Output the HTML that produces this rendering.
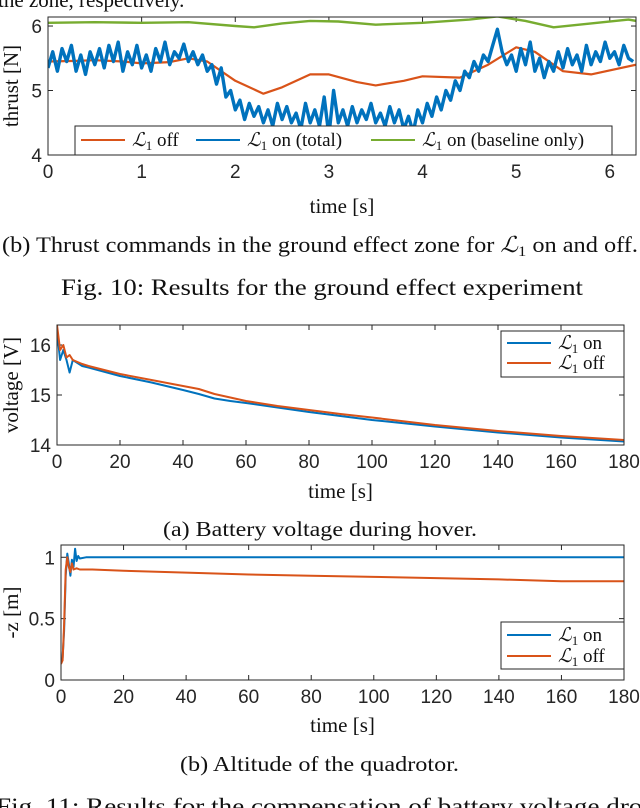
<!DOCTYPE html>
<html><head><meta charset="utf-8"><style>
html,body{margin:0;padding:0;background:#fff;}
svg{display:block;}
.tk{font-family:"Liberation Sans",sans-serif;font-size:19px;fill:#262626;}
.sr{font-family:"Liberation Serif",serif;fill:#111;}
</style></head><body>
<svg id="pg" width="640" height="808" viewBox="0 0 640 808" xmlns="http://www.w3.org/2000/svg">
<text class="sr" x="-2" y="7" font-size="21">the zone, respectively.</text>
<text class="sr" x="2" y="252" font-size="22" textLength="636" lengthAdjust="spacingAndGlyphs">(b) Thrust commands in the ground effect zone for <tspan font-style="italic">ℒ</tspan><tspan font-size="15" dy="4">1</tspan><tspan dy="-4"> on and off.</tspan></text>
<text class="sr" x="61" y="295" font-size="23" textLength="522" lengthAdjust="spacingAndGlyphs">Fig. 10: Results for the ground effect experiment</text>
<text class="sr" x="163" y="536" font-size="21" textLength="314" lengthAdjust="spacingAndGlyphs">(a) Battery voltage during hover.</text>
<text class="sr" x="180" y="771" font-size="21" textLength="279" lengthAdjust="spacingAndGlyphs">(b) Altitude of the quadrotor.</text>
<text class="sr" x="-4" y="814" font-size="23" textLength="660" lengthAdjust="spacingAndGlyphs">Fig. 11: Results for the compensation of battery voltage drop</text>
</svg>
<script>
// ---- Chart 1: thrust ----
const thrustTicksX = [0,1,2,3,4,5,6];
const thrustTicksY = [4,5,6];
const thrustOffT = [0,0.3,0.5,0.8,1,1.3,1.5,1.7,2,2.3,2.5,2.8,3,3.3,3.5,3.8,4,4.4,4.7,5,5.2,5.5,5.8,6.28];
const thrustOff  = [5.45,5.46,5.47,5.45,5.42,5.44,5.5,5.45,5.15,4.95,5.05,5.25,5.25,5.13,5.08,5.15,5.22,5.2,5.4,5.67,5.6,5.3,5.25,5.4];
const thrustBaseT = [0,0.5,1,1.5,2,2.2,2.5,2.8,3.1,3.5,4,4.5,4.8,5.1,5.4,5.8,6.2,6.28];
const thrustBase  = [6.05,6.06,6.05,6.06,6.0,5.98,6.04,6.08,6.07,6.02,6.05,6.1,6.15,6.08,5.98,6.04,6.1,6.08];
const thrustOnDt = 0.05;
const thrustOn = [5.35,5.6,5.3,5.65,5.45,5.7,5.3,5.55,5.25,5.6,5.4,5.65,5.35,5.7,5.45,5.75,5.3,5.6,5.4,5.7,5.35,5.55,5.3,5.65,5.45,5.75,5.4,5.6,5.5,5.72,5.45,5.6,5.4,5.55,5.3,
5.4,5.1,5.35,4.9,5.0,4.7,4.85,4.55,4.8,4.6,4.75,4.5,
4.7,4.45,4.8,4.55,4.75,4.5,4.65,4.4,4.8,4.5,4.7,4.45,4.9,4.3,5.0,4.5,4.7,4.45,4.75,4.5,4.7,4.55,4.8,4.5,4.65,4.45,4.75,4.5,4.7,4.4,4.6,4.35,4.7,4.5,4.8,4.6,4.9,4.7,
5.0,4.85,5.15,5.0,5.3,5.2,5.45,5.3,5.55,5.45,5.7,5.95,
5.6,5.4,5.55,5.3,5.65,5.4,5.75,5.3,5.5,5.2,5.45,5.3,5.6,5.35,5.65,5.4,5.55,5.3,5.7,5.4,5.6,5.45,5.75,5.5,5.6,5.4,5.7,5.5,5.45];
// ---- Chart 2: voltage ----
const voltTicksX = [0,20,40,60,80,100,120,140,160,180];
const voltTicksY = [14,15,16];
const voltT   = [0,1,2,3,4,5,8,10,20,30,40,45,50,55,60,70,80,90,100,120,140,160,180];
const voltOff = [16.4,15.9,16.0,15.75,15.8,15.7,15.62,15.58,15.42,15.3,15.18,15.12,15.02,14.95,14.88,14.78,14.7,14.62,14.55,14.4,14.28,14.18,14.1];
const voltOn  = [16.3,15.7,15.9,15.7,15.45,15.7,15.58,15.55,15.38,15.25,15.1,15.02,14.93,14.88,14.84,14.75,14.66,14.58,14.5,14.37,14.25,14.15,14.07];
// ---- Chart 3: altitude ----
const altTicksX = [0,20,40,60,80,100,120,140,160,180];
const altTicksY = [0,0.5,1];
const altOnT = [0,0.5,1,1.5,2,2.5,3,3.5,4,4.5,5,5.5,6,8,10,180];
const altOn  = [0.15,0.18,0.4,0.85,1.03,0.95,0.85,0.98,0.92,1.07,0.97,1.01,0.99,1.0,1.0,1.0];
const altOffT = [0,0.5,1,1.5,2,2.5,3,3.5,4,5,6,10,20,40,60,80,100,120,140,160,180];
const altOff  = [0.13,0.16,0.45,0.9,1.0,0.92,0.88,0.95,0.9,0.91,0.9,0.9,0.89,0.875,0.86,0.85,0.84,0.83,0.82,0.805,0.805];

const NS='http://www.w3.org/2000/svg';
const svg=document.getElementById('pg');
function mk(tag,attrs,parent){const e=document.createElementNS(NS,tag);for(const k in attrs)e.setAttribute(k,attrs[k]);(parent||svg).appendChild(e);return e;}
const BLUE='#0072bd', ORANGE='#d95319', GREEN='#77ac30';

function chart(id,box,xd,yd,xt,yt,ylabel,xlabel,xlabelY,series,legend){
  const g=mk('g',{});
  
  
  const sx=v=>box.x+(v-xd[0])/(xd[1]-xd[0])*box.w;
  const sy=v=>box.y+box.h-(v-yd[0])/(yd[1]-yd[0])*box.h;
  const cp=mk('clipPath',{id:id+'-clip'},g);
  mk('rect',{x:box.x,y:box.y,width:box.w,height:box.h},cp);
  xt.forEach(v=>{
    const x=sx(v);
    mk('line',{x1:x,x2:x,y1:box.y+box.h,y2:box.y+box.h-5,stroke:'#262626','stroke-width':1},g);
    mk('line',{x1:x,x2:x,y1:box.y,y2:box.y+5,stroke:'#262626','stroke-width':1},g);
    const t=mk('text',{x:x,y:box.y+box.h+23,'text-anchor':'middle',class:'tk'},g);t.textContent=v;
    
    
  });
  yt.forEach(v=>{
    const y=sy(v);
    mk('line',{x1:box.x,x2:box.x+5,y1:y,y2:y,stroke:'#262626','stroke-width':1},g);
    mk('line',{x1:box.x+box.w,x2:box.x+box.w-5,y1:y,y2:y,stroke:'#262626','stroke-width':1},g);
    const t=mk('text',{x:box.x-6,y:y+7,'text-anchor':'end',class:'tk'},g);t.textContent=v;
    
    
  });
  const sg=mk('g',{'clip-path':'url(#'+id+'-clip)'},g);
  series.forEach(s=>{
    let d='';
    s.v.forEach((v,i)=>{const t=s.t?s.t[i]:i*s.dt;d+=(i?'L':'M')+sx(t).toFixed(1)+','+sy(v).toFixed(1);});
    const p=mk('path',{d:d,fill:'none',stroke:s.c,'stroke-width':s.w||1.8,'stroke-linejoin':'round'},sg);
    
    
  });
  const fr=mk('rect',{x:box.x,y:box.y,width:box.w,height:box.h,fill:'none',stroke:'#262626','stroke-width':1},g);
  
  
  const yl=mk('text',{x:0,y:0,class:'sr','font-size':21,'text-anchor':'middle',transform:'translate(18,'+(box.y+box.h/2)+') rotate(-90)'},g);
  yl.textContent=ylabel;
  
  
  const xl=mk('text',{x:box.x+box.w/2,y:xlabelY,class:'sr','font-size':21,'text-anchor':'middle'},g);
  xl.textContent=xlabel;
  
  
  const lg=mk('g',{},g);
  
  
  mk('rect',{x:legend.x,y:legend.y,width:legend.w,height:legend.h,fill:'#fff',stroke:'#262626','stroke-width':1},lg);
  legend.items.forEach(it=>{
    const e=mk('g',{},lg);
    
    
    mk('line',{x1:it.x,x2:it.x+it.len,y1:it.y,y2:it.y,stroke:it.c,'stroke-width':2},e);
    const t=mk('text',{x:it.x+it.len+7,y:it.y+6,class:'sr','font-size':19},e);
    const a=mk('tspan',{'font-style':'italic'},t);a.textContent='ℒ';
    const b=mk('tspan',{'font-size':13,dy:4},t);b.textContent='1';
    const c=mk('tspan',{dy:-4},t);c.textContent=' '+it.label;
  });
}

chart('thrust-chart',{x:48,y:17,w:588,h:138},[0,6.28],[4,6.14],thrustTicksX,thrustTicksY,'thrust [N]','time [s]',213,[
  {name:'series-l1-off',t:thrustOffT,v:thrustOff,c:ORANGE,w:2.2},
  {name:'series-l1-on-total',dt:thrustOnDt,v:thrustOn,c:BLUE,w:3.4},
  {name:'series-l1-on-baseline',t:thrustBaseT,v:thrustBase,c:GREEN,w:2.4}
],{x:75,y:126,w:537,h:29,items:[
  {x:81,y:140,len:44,c:ORANGE,label:'off'},
  {x:196,y:140,len:44,c:BLUE,label:'on (total)'},
  {x:371,y:140,len:44,c:GREEN,label:'on (baseline only)'}
]});

chart('voltage-chart',{x:57,y:325,w:567,h:120},[0,180],[14,16.4],voltTicksX,voltTicksY,'voltage [V]','time [s]',498,[
  {name:'series-voltage-l1-on',t:voltT,v:voltOn,c:BLUE,w:2},
  {name:'series-voltage-l1-off',t:voltT,v:voltOff,c:ORANGE,w:2}
],{x:501,y:331,w:123,h:46,items:[
  {x:507,y:343,len:44,c:BLUE,label:'on'},
  {x:507,y:363,len:44,c:ORANGE,label:'off'}
]});

chart('altitude-chart',{x:61,y:545,w:563,h:135},[0,180],[0,1.1],altTicksX,altTicksY,'-z [m]','time [s]',732,[
  {name:'series-altitude-l1-on',t:altOnT,v:altOn,c:BLUE,w:2},
  {name:'series-altitude-l1-off',t:altOffT,v:altOff,c:ORANGE,w:2}
],{x:501,y:622,w:123,h:47,items:[
  {x:507,y:635,len:44,c:BLUE,label:'on'},
  {x:507,y:656,len:44,c:ORANGE,label:'off'}
]});
</script>
</body></html>
